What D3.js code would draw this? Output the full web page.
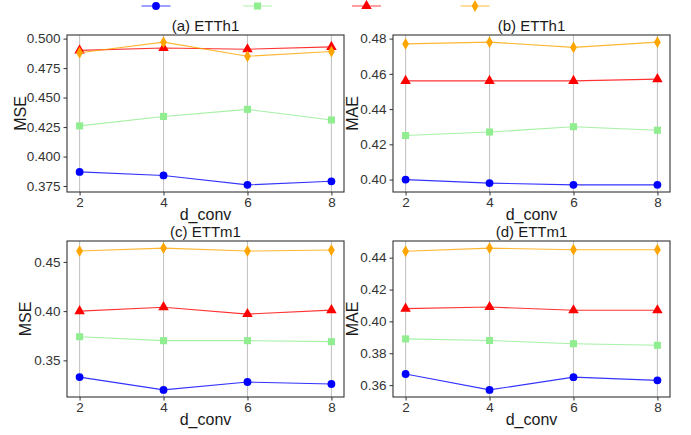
<!DOCTYPE html>
<html><head><meta charset="utf-8">
<script src="https://cdn.jsdelivr.net/npm/d3@7"></script>
<style>body{margin:0;background:#fff}svg{display:block;font-family:"Liberation Sans",Arial,sans-serif}</style>
</head><body><svg id="c" width="691" height="435"></svg>
<script>
const dconv = [2, 4, 6, 8];
const seriesColors = ["#0000ff", "#90ee90", "#ff0000", "#ffa500"];
const seriesShapes = ["circle", "square", "triangle", "diamond"];
const titles = ["(a) ETTh1", "(b) ETTh1", "(c) ETTm1", "(d) ETTm1"];
const yLabels = ["MSE", "MAE", "MSE", "MAE"];
const yTicksA = [0.375, 0.400, 0.425, 0.450, 0.475, 0.500];
const yTicksB = [0.40, 0.42, 0.44, 0.46, 0.48];
const yTicksC = [0.35, 0.40, 0.45];
const yTicksD = [0.36, 0.38, 0.40, 0.42, 0.44];
const tickFormats = [".3f", ".2f", ".2f", ".2f"];
// panel (a) MSE ETTh1
const a_blue = [0.387, 0.384, 0.376, 0.379];
const a_green = [0.426, 0.434, 0.440, 0.431];
const a_red = [0.490, 0.492, 0.491, 0.493];
const a_orange = [0.488, 0.497, 0.485, 0.489];
// panel (b) MAE ETTh1
const b_blue = [0.400, 0.398, 0.397, 0.397];
const b_green = [0.425, 0.427, 0.430, 0.428];
const b_red = [0.456, 0.456, 0.456, 0.457];
const b_orange = [0.477, 0.478, 0.475, 0.478];
// panel (c) MSE ETTm1
const c_blue = [0.333, 0.320, 0.328, 0.326];
const c_green = [0.374, 0.370, 0.370, 0.369];
const c_red = [0.400, 0.404, 0.397, 0.401];
const c_orange = [0.461, 0.464, 0.461, 0.462];
// panel (d) MAE ETTm1
const d_blue = [0.367, 0.357, 0.365, 0.363];
const d_green = [0.389, 0.388, 0.386, 0.385];
const d_red = [0.408, 0.409, 0.407, 0.407];
const d_orange = [0.444, 0.446, 0.445, 0.445];

const panelsData = [
  [a_blue, a_green, a_red, a_orange],
  [b_blue, b_green, b_red, b_orange],
  [c_blue, c_green, c_red, c_orange],
  [d_blue, d_green, d_red, d_orange]
];
const panelTicks = [yTicksA, yTicksB, yTicksC, yTicksD];

const svg = d3.select("#c");
const boxes = [
  {x0: 67, x1: 344, y0: 35, y1: 192, yt: 47},
  {x0: 393, x1: 670, y0: 35, y1: 192, yt: 41},
  {x0: 67, x1: 344, y0: 241, y1: 397, yt: 42},
  {x0: 393, x1: 670, y0: 241, y1: 397, yt: 41}
];

function shapePath(shape) {
  const sym = {circle: d3.symbolCircle, square: d3.symbolSquare, triangle: d3.symbolTriangle, diamond: d3.symbolDiamond}[shape];
  const size = {circle: 48, square: 50, triangle: 48, diamond: 40}[shape];
  return d3.symbol().type(sym).size(size)();
}

panelsData.forEach((series, i) => {
  const b = boxes[i];
  const all = series.flat();
  const mn = d3.min(all), mx = d3.max(all), r = mx - mn;
  const x = d3.scaleLinear().domain([2 - 0.3, 8 + 0.3]).range([b.x0, b.x1]);
  const y = d3.scaleLinear().domain([mn - 0.05 * r, mx + 0.05 * r]).range([b.y1, b.y0]);
  const g = svg.append("g");
  g.selectAll("line.grid").data(dconv).join("line")
    .attr("x1", d => x(d)).attr("x2", d => x(d)).attr("y1", b.y0).attr("y2", b.y1)
    .attr("stroke", "#c4c4c4").attr("stroke-width", 1.1);
  const xa = g.append("g").attr("transform", `translate(0,${b.y1})`)
    .call(d3.axisBottom(x).tickValues(dconv).tickSize(3.5).tickPadding(2).tickFormat(d3.format("d")));
  const ya = g.append("g").attr("transform", `translate(${b.x0},0)`)
    .call(d3.axisLeft(y).tickValues(panelTicks[i]).tickSize(3.5).tickPadding(3).tickFormat(d3.format(tickFormats[i])));
  [xa, ya].forEach(ax => {
    ax.select(".domain").remove();
    ax.selectAll("line").attr("stroke", "#333");
    ax.selectAll("text").attr("fill", "#333").style("font-size", "13.5px").style("font-family", "Liberation Sans, Arial, sans-serif");
  });
  series.forEach((vals, s) => {
    const pts = vals.map((v, k) => [dconv[k], v]);
    g.append("path").datum(pts)
      .attr("d", d3.line().x(d => x(d[0])).y(d => y(d[1])))
      .attr("fill", "none").attr("stroke", seriesColors[s]).attr("stroke-width", 1.1).attr("stroke-opacity", 0.8);
    g.selectAll(null).data(pts).join("path")
      .attr("d", shapePath(seriesShapes[s]))
      .attr("transform", d => `translate(${x(d[0])},${y(d[1])})`)
      .attr("fill", seriesColors[s]);
  });
  g.append("rect").attr("x", b.x0).attr("y", b.y0).attr("width", b.x1 - b.x0).attr("height", b.y1 - b.y0)
    .attr("fill", "none").attr("stroke", "#333").attr("stroke-width", 1.1);
  g.append("text").attr("x", (b.x0 + b.x1) / 2).attr("y", b.y0 - 4).attr("text-anchor", "middle")
    .attr("fill", "#1a1a1a").style("font-size", "15px").text(titles[i]);
  g.append("text").attr("x", (b.x0 + b.x1) / 2).attr("y", b.y1 + 28).attr("text-anchor", "middle")
    .attr("fill", "#1a1a1a").style("font-size", "16px").text("d_conv");
  g.append("text").attr("transform", `translate(${b.x0 - b.yt + 6},${(b.y0 + b.y1) / 2}) rotate(-90)`).attr("text-anchor", "middle")
    .attr("fill", "#1a1a1a").style("font-size", "16px").text(yLabels[i]);
});

const legendX = [156, 257.5, 366.5, 475];
seriesColors.forEach((c, s) => {
  const lg = svg.append("g").attr("transform", `translate(${legendX[s]},6)`);
  lg.append("line").attr("x1", -14.5).attr("x2", 14.5).attr("y1", 0).attr("y2", 0)
    .attr("stroke", c).attr("stroke-width", 1.5).attr("stroke-opacity", 0.5);
  lg.append("path").attr("d", shapePath(seriesShapes[s])).attr("fill", c);
});
</script></body></html>
